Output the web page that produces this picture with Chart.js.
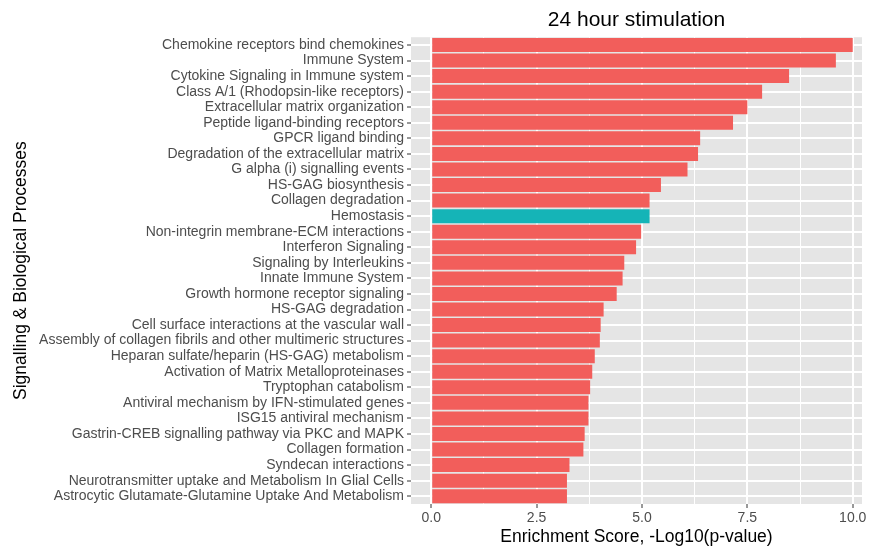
<!DOCTYPE html>
<html>
<head>
<meta charset="utf-8">
<script src="https://cdn.jsdelivr.net/npm/chart.js@4"></script>
<style>
  html, body { margin: 0; padding: 0; background: #ffffff; }
</style>
</head>
<body>
<canvas id="chartCanvas" width="871" height="546"></canvas>
<script>
// Categorías (de arriba hacia abajo)
const categories = [
  "Chemokine receptors bind chemokines",
  "Immune System",
  "Cytokine Signaling in Immune system",
  "Class A/1 (Rhodopsin-like receptors)",
  "Extracellular matrix organization",
  "Peptide ligand-binding receptors",
  "GPCR ligand binding",
  "Degradation of the extracellular matrix",
  "G alpha (i) signalling events",
  "HS-GAG biosynthesis",
  "Collagen degradation",
  "Hemostasis",
  "Non-integrin membrane-ECM interactions",
  "Interferon Signaling",
  "Signaling by Interleukins",
  "Innate Immune System",
  "Growth hormone receptor signaling",
  "HS-GAG degradation",
  "Cell surface interactions at the vascular wall",
  "Assembly of collagen fibrils and other multimeric structures",
  "Heparan sulfate/heparin (HS-GAG) metabolism",
  "Activation of Matrix Metalloproteinases",
  "Tryptophan catabolism",
  "Antiviral mechanism by IFN-stimulated genes",
  "ISG15 antiviral mechanism",
  "Gastrin-CREB signalling pathway via PKC and MAPK",
  "Collagen formation",
  "Syndecan interactions",
  "Neurotransmitter uptake and Metabolism In Glial Cells",
  "Astrocytic Glutamate-Glutamine Uptake And Metabolism"
];

// Puntuación de enriquecimiento, -Log10(p-value)
const scores = [
  10.0, 9.6, 8.49, 7.85, 7.5, 7.16, 6.38, 6.33, 6.08, 5.45,
  5.18, 5.18, 4.98, 4.86, 4.58, 4.54, 4.4, 4.09, 4.02, 4.0,
  3.88, 3.82, 3.77, 3.73, 3.73, 3.64, 3.61, 3.28, 3.22, 3.22
];

const highlighted = "Hemostasis";
const xTicks = [0, 1.25, 2.5, 3.75, 5, 6.25, 7.5, 8.75, 10];

const FONT = "'Liberation Sans', Arial, sans-serif";

// Fondo gris del panel (estilo ggplot)
const panelBackground = {
  id: "panelBackground",
  beforeDraw(chart) {
    const a = chart.chartArea;
    const c = chart.ctx;
    c.save();
    c.fillStyle = "#E5E5E5";
    c.fillRect(a.left, a.top, a.right - a.left, a.bottom - a.top);
    c.restore();
  }
};

const ctx = document.getElementById("chartCanvas").getContext("2d");

new Chart(ctx, {
  type: "bar",
  data: {
    labels: categories,
    datasets: [{
      data: scores,
      backgroundColor: categories.map(c => c === highlighted ? "#15B4B7" : "#F25E5B"),
      borderWidth: 0,
      barPercentage: 0.9,
      categoryPercentage: 1.0
    }]
  },
  options: {
    indexAxis: "y",
    responsive: false,
    animation: false,
    devicePixelRatio: 1,
    layout: { padding: { top: 0, right: 9, bottom: 0, left: 0 } },
    plugins: {
      legend: { display: false },
      tooltip: { enabled: false },
      title: {
        display: true,
        text: "24 hour stimulation",
        fullSize: false,
        color: "#000000",
        font: { family: FONT, size: 21, weight: "normal" },
        padding: { top: 8, bottom: 4 }
      }
    },
    scales: {
      x: {
        type: "linear",
        min: -0.48,
        max: 10.22,
        afterBuildTicks(scale) {
          scale.ticks = xTicks.map(v => ({ value: v }));
        },
        afterFit(scale) {
          scale.height = 42;
        },
        border: { display: false },
        grid: {
          color: "#FFFFFF",
          lineWidth: c => (c.tick && c.tick.value % 2.5 === 0) ? 2 : 1,
          tickColor: c => (c.tick && c.tick.value % 2.5 === 0) ? "#333333" : "rgba(0,0,0,0)",
          tickWidth: 1,
          tickLength: 4
        },
        ticks: {
          color: "#4D4D4D",
          font: { family: FONT, size: 14 },
          padding: 2,
          maxRotation: 0,
          callback: v => (v % 2.5 === 0) ? v.toFixed(1) : ""
        },
        title: {
          display: true,
          text: "Enrichment Score, -Log10(p-value)",
          color: "#000000",
          font: { family: FONT, size: 17.5, lineHeight: 1.0 },
          padding: { top: 0, bottom: 0 }
        }
      },
      y: {
        type: "category",
        afterFit(scale) {
          scale.width = 411;
        },
        border: { display: false },
        grid: {
          offset: false,
          color: "#FFFFFF",
          lineWidth: 2,
          tickColor: "#333333",
          tickWidth: 1,
          tickLength: 4
        },
        ticks: {
          autoSkip: false,
          color: "#4D4D4D",
          font: { family: FONT, size: 14 },
          padding: 3
        },
        title: {
          display: true,
          text: "Signalling & Biological Processes",
          color: "#000000",
          font: { family: FONT, size: 17.5 },
          padding: { top: 11, bottom: 0 }
        }
      }
    }
  },
  plugins: [panelBackground]
});
</script>
</body>
</html>
